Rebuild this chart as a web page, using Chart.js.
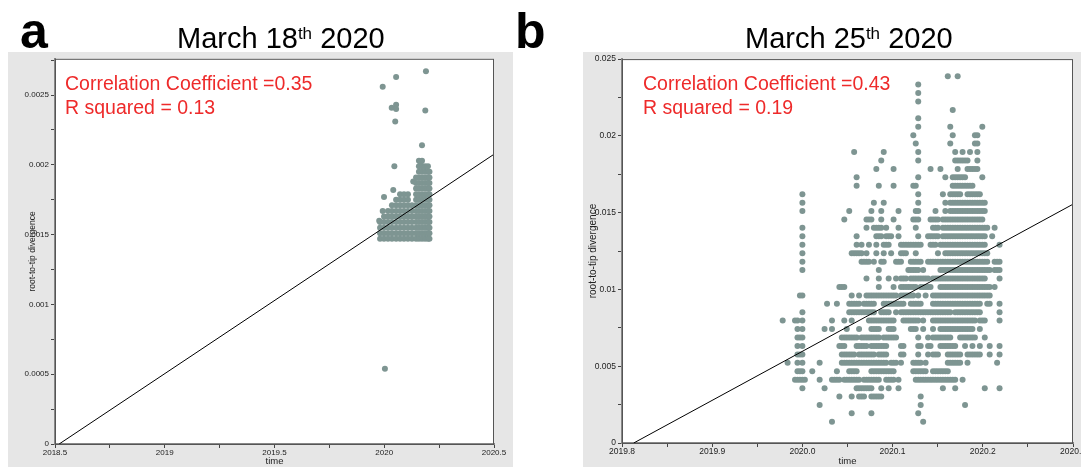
<!DOCTYPE html>
<html>
<head>
<meta charset="utf-8">
<title>root-to-tip divergence vs time</title>
<script src="https://cdn.jsdelivr.net/npm/chart.js@4.4.1/dist/chart.umd.min.js"></script>
<style>
  html, body { margin: 0; padding: 0; }
  body { width: 1081px; height: 467px; overflow: hidden; position: relative; background: #fff;
         font-family: "Liberation Sans", Arial, sans-serif; }
  canvas { position: absolute; top: 52px; }
  #chartA { left: 8px; }
  #chartB { left: 583px; }
  .letter { position: absolute; top: 6px; font-size: 50px; line-height: 50px; font-weight: bold; color: #000; }
  .title { position: absolute; top: 24px; font-size: 29px; line-height: 29px; color: #000; white-space: nowrap; }
  .title sup { font-size: 17px; vertical-align: 9px; line-height: 0; }
  .stats { position: absolute; top: 71px; font-size: 19.5px; line-height: 24px; color: #ee2a2a; white-space: nowrap; }
</style>
</head>
<body>
<canvas id="chartA" width="505" height="415"></canvas>
<canvas id="chartB" width="507" height="415"></canvas>
<div class="letter" style="left:20px">a</div>
<div class="letter" style="left:515px">b</div>
<div class="title" style="left:177px">March 18<sup>th</sup> 2020</div>
<div class="title" style="left:745px">March 25<sup>th</sup> 2020</div>
<div class="stats" style="left:65px">Correlation Coefficient =0.35<br>R squared = 0.13</div>
<div class="stats" style="left:643px">Correlation Coefficient =0.43<br>R squared = 0.19</div>

<script>
// ---- panel a (March 18th): dense cloud read column by column, divergence in 1e-5 units
const aYears = [2019.981, 2019.999, 2020.017, 2020.035, 2020.054, 2020.072, 2020.090, 2020.108,
                2020.126, 2020.145, 2020.158, 2020.172, 2020.186, 2020.199, 2020.206];
const aDiv = [
  [147, 151, 155, 159],
  [147, 151, 155, 159, 163],
  [147, 151, 155, 159, 163, 167],
  [147, 151, 155, 159, 163, 167, 171],
  [147, 151, 155, 159, 163, 167, 171, 175],
  [147, 151, 155, 159, 163, 167, 171, 175, 179],
  [147, 151, 155, 159, 163, 167, 171, 175, 179],
  [147, 151, 155, 159, 163, 167, 171, 175, 179],
  [147, 151, 155, 159, 163, 167, 171],
  [147, 151, 155, 159, 163, 167, 171, 175, 179, 183, 187, 191],
  [147, 151, 155, 159, 163, 167, 171, 175, 179, 183, 187, 191, 195, 199, 203],
  [147, 151, 155, 159, 163, 167, 171, 175, 179, 183, 187, 191, 195, 199, 203],
  [147, 151, 155, 159, 163, 167, 171, 175, 179, 183, 187, 191, 195, 199],
  [147, 151, 155, 159, 163, 167, 171, 175, 179, 183, 187, 191, 195, 199],
  [147, 151, 155, 159, 163, 167, 171, 175, 179, 183, 187, 191, 195]
];
// scattered tips of panel a
const aOutYears = [2019.977, 2019.993, 2019.999, 2020.041, 2020.132, 2020.003, 2019.993, 2020.054,
                   2020.054, 2020.034, 2020.054, 2020.050, 2020.187, 2020.172, 2020.190, 2020.046, 2020.166];
const aOutDiv   = [160, 167, 177, 182, 188, 54, 256, 263,
                   243, 241, 240, 231, 239, 214, 267, 199, 202];
const aFitYears = [2018.519, 2020.5];
const aFitDiv   = [0, 0.002076];

// ---- panel b (March 25th): tips sit on discrete divergence rows and sampling days
const bRowLevels = [0.00028, 0.00083, 0.00138, 0.00193, 0.00248, 0.00303, 0.00357, 0.00412, 0.00467,
  0.00522, 0.00577, 0.00632, 0.00687, 0.00742, 0.00797, 0.00852, 0.00906, 0.00961, 0.01016, 0.01071,
  0.01126, 0.01181, 0.01236, 0.01291, 0.01346, 0.01401, 0.01455, 0.01510, 0.01565, 0.01620, 0.01675,
  0.01730, 0.01785, 0.01840, 0.01895, 0.01950, 0.02004, 0.02059, 0.02114, 0.02169, 0.02224, 0.02279,
  0.02334, 0.02389];
const bRowIdx = [43, 42, 41, 40, 39, 38, 37, 36, 35, 34, 33, 32, 31, 30, 29, 28, 27, 26, 25, 24, 23,
                 22, 21, 20, 19, 18, 17, 16, 15, 14, 13, 12, 11, 10, 9, 8, 7, 6, 5, 4, 3, 2];
// days since 1 Jan 2020 that have a tip on that row
const bRowDays = [
  '59,63', '47', '47', '47', '61', '47', '47,60,73', '45,61,70-71', '46,60,70-71',
  '21,33,47,62,65,68,71', '32,47,62-67,71', '30,37,52,56,63,67-71', '22,47,58,61-66,73',
  '22,31,37,45-46,61-69', '0,47,57,60-64,67-72', '0,29,33,47,58,60-74',
  '0,19,28,32,39,46-47,54,58,60-74', '17,26-28,32,37,45-47,52-55,57-73',
  '0,26,29-32,34,39,46,53-55,57-75,78', '0,22,30-32,34-36,39,47,51-55,57-74,77',
  '0,22,24,27,30,33-35,40-48,52-54,56-74,80', '0,20-24,26,30,33,36,40-42,46,55,58-75',
  '0,24-27,29,32-33,38-40,44-48,51-75,78-80', '0,31,43-47,49,56-76,78-80',
  '26,31,35,38,40-42,44-51,53-74,80', '15-17,31,37,40-46,48-52,56-76,78',
  '-1,0,20,23,26-38,40-45,47,50,53-76', '10,14,19-23,25-29,33-41,44-48,53-72,75-76,80',
  '0,19-29,32-35,38,40-60,62-72,80', '-8,-3,-2,0,12,17,20,27-37,41-47,49,53-70,72-74,80',
  '-2,0,9,12,18,23,28-31,35-37,44-46,49,53,56-69,72',
  '-2,-1,0,16-22,24-31,33-38,47,51,53-60,64-70,74',
  '-2,0,15-17,22-26,28-34,40-41,47-48,51-52,56-62,66,69,72,76,80',
  '-2,-1,0,16-21,23-29,31-34,40-41,47,51,53-55,59-64,67-72,76,80',
  '-6,-2,0,7,16-34,36-38,40,45-48,50,59-64,67,79',
  '-2,-1,0,4,14,19-22,28-37,45-50,53-59',
  '-3,-2,-1,0,1,7,12-15,17-23,25-31,34-37,39,46-62,65',
  '0,9,22-28,32,35,39,57,62,74,80', '15,20,23-25,28-32,48', '7,48,66', '20,28,47', '12,49'
];
const bFitYears = [2019.813, 2020.3];
const bFitDiv   = [0, 0.01555];

const DOT = '#7e9592';

function dayList(s) {
  const out = [];
  s.split(',').forEach(p => {
    const m = p.match(/^(-?\d+)(?:-(-?\d+))?$/);
    const a = +m[1], b = m[2] !== undefined ? +m[2] : a;
    for (let d = a; d <= b; d++) out.push(d);
  });
  return out;
}

const aPoints = [];
aYears.forEach((x, i) => aDiv[i].forEach(v => aPoints.push({ x, y: v * 1e-5 })));
aOutYears.forEach((x, i) => aPoints.push({ x, y: aOutDiv[i] * 1e-5 }));

const bPoints = [];
bRowIdx.forEach((r, i) => dayList(bRowDays[i]).forEach(d => bPoints.push({ x: 2020 + d / 366, y: bRowLevels[r] })));

const isMajor = (v, m) => Math.abs(v / m - Math.round(v / m)) < 1e-6;

// grey panel, white plotting area, thin frame
const frame = {
  id: 'frame',
  beforeDraw(chart) {
    const { ctx, chartArea: a } = chart;
    ctx.save();
    ctx.fillStyle = '#e6e6e6';
    ctx.fillRect(0, 0, chart.width, chart.height);
    ctx.fillStyle = '#fff';
    ctx.fillRect(a.left, a.top, a.right - a.left, a.bottom - a.top);
    ctx.restore();
  },
  afterDraw(chart) {
    const { ctx, chartArea: a } = chart;
    ctx.save();
    ctx.strokeStyle = '#555';
    ctx.lineWidth = 1;
    ctx.strokeRect(a.left + 0.5, a.top + 0.5, a.right - a.left - 1, a.bottom - a.top);
    ctx.restore();
  }
};

function makeChart(id, points, fitX, fitY, o) {
  const font = { family: '"Liberation Sans", Arial, sans-serif', size: o.tickSize };
  return new Chart(document.getElementById(id), {
    type: 'scatter',
    data: {
      datasets: [
        {
          data: fitX.map((x, i) => ({ x, y: fitY[i] })),
          showLine: true, borderColor: '#000', borderWidth: 1, pointRadius: 0, order: 0
        },
        {
          data: points, pointRadius: 3, pointBackgroundColor: DOT,
          pointBorderWidth: 0, order: 1
        }
      ]
    },
    options: {
      responsive: false,
      animation: false,
      devicePixelRatio: 1,
      layout: { padding: { top: o.padTop, right: o.padRight, left: 0, bottom: 0 } },
      plugins: { legend: { display: false }, tooltip: { enabled: false } },
      scales: {
        x: {
          type: 'linear', min: o.xMin, max: o.xMax,
          border: { display: true, color: '#888', width: 2 },
          grid: { drawOnChartArea: false, drawTicks: true, tickLength: 4, color: '#444' },
          ticks: {
            stepSize: o.xStep, autoSkip: false, maxRotation: 0, padding: 0, color: '#222', font,
            callback: v => isMajor(v, o.xMajor) ? o.xFmt(v) : ''
          },
          title: { display: true, text: 'time', color: '#222', padding: { top: 0, bottom: 0 },
                   font: { family: font.family, size: 9.5 } },
          afterFit(s) { s.height = o.xH; }
        },
        y: {
          type: 'linear', min: 0, max: o.yMax,
          border: { display: true, color: '#888', width: 2 },
          grid: { drawOnChartArea: false, drawTicks: true, tickLength: 4, color: '#444' },
          ticks: {
            stepSize: o.yStep, autoSkip: false, includeBounds: false, padding: 2, color: '#222', font,
            callback: v => isMajor(v, o.yMajor) ? String(parseFloat(v.toFixed(6))) : ''
          },
          title: { display: true, text: 'root-to-tip divergence', color: '#222',
                   padding: { top: o.yTitlePad, bottom: 0 },
                   font: { family: font.family, size: o.yTitleSize } },
          afterFit(s) { s.width = o.yW; }
        }
      }
    },
    plugins: [frame]
  });
}

makeChart('chartA', aPoints, aFitYears, aFitDiv, {
  xMin: 2018.5, xMax: 2020.5, xStep: 0.25, xMajor: 0.5, xFmt: v => String(parseFloat(v.toFixed(4))),
  yMax: 0.00276, yStep: 0.00025, yMajor: 0.0005,
  padTop: 5, padRight: 19, xH: 23, yW: 47, tickSize: 8, yTitleSize: 8.5, yTitlePad: 20
});

makeChart('chartB', bPoints, bFitYears, bFitDiv, {
  xMin: 2019.8, xMax: 2020.3, xStep: 0.05, xMajor: 0.1, xFmt: v => v.toFixed(1),
  yMax: 0.025, yStep: 0.0025, yMajor: 0.005,
  padTop: 4, padRight: 17, xH: 24, yW: 39, tickSize: 8.5, yTitleSize: 10, yTitlePad: 4
});
</script>
</body>
</html>
